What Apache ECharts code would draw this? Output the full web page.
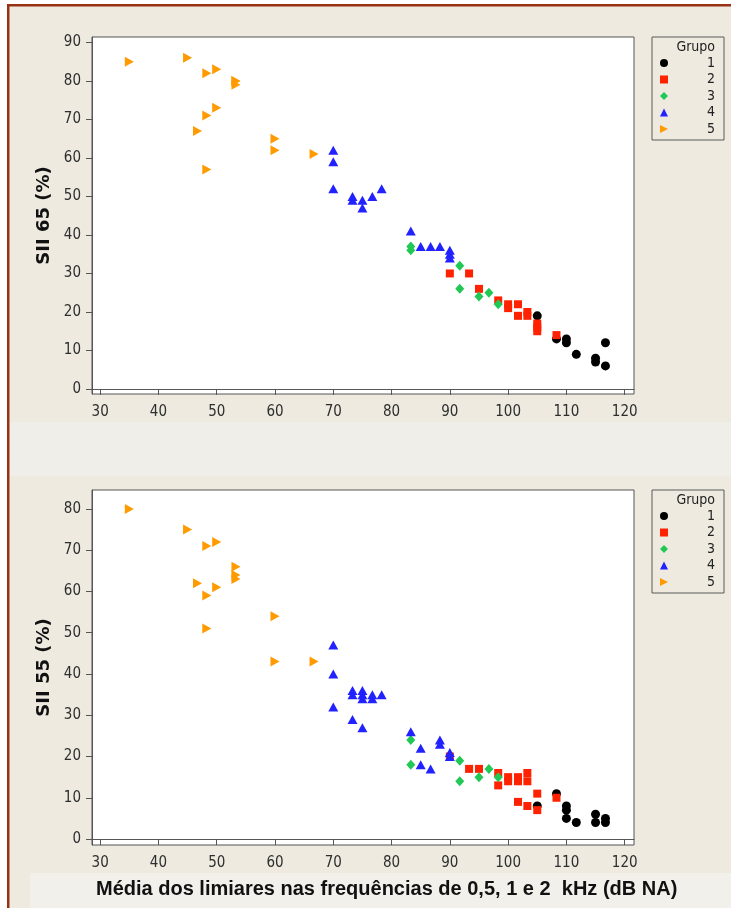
<!DOCTYPE html>
<html>
<head>
<meta charset="utf-8">
<title>SII 65 e SII 55</title>
<script src="https://cdn.jsdelivr.net/npm/echarts@6/dist/echarts.min.js"></script>
<style>
  html, body { margin: 0; padding: 0; background: #ffffff; }
  #chart { width: 731px; height: 908px; }
</style>
</head>
<body>
<div id="chart"></div>
<script>
// Tick values
const xTicks = [30, 40, 50, 60, 70, 80, 90, 100, 110, 120];
const sii65Ticks = [0, 10, 20, 30, 40, 50, 60, 70, 80, 90];
const sii55Ticks = [0, 10, 20, 30, 40, 50, 60, 70, 80];

const groupNames = ['1', '2', '3', '4', '5'];

// SII 65 (%) against mean threshold at 0.5, 1 and 2 kHz (dB NA)
const sii65Grupo1 = [[105, 19], [108.3, 13], [110, 13], [110, 12], [111.7, 9], [115, 8], [115, 7], [116.7, 12], [116.7, 6]];
const sii65Grupo2 = [[90, 30], [93.3, 30], [95, 26], [98.3, 23], [100, 22], [100, 21], [101.7, 22], [101.7, 19], [103.3, 20], [103.3, 19], [105, 17], [105, 16], [105, 15], [108.3, 14]];
const sii65Grupo3 = [[83.3, 37], [83.3, 36], [91.7, 32], [91.7, 26], [95, 24], [96.7, 25], [98.3, 22]];
const sii65Grupo4 = [[70, 62], [70, 59], [70, 52], [73.3, 50], [73.3, 49], [75, 49], [75, 47], [76.7, 50], [78.3, 52], [83.3, 41], [85, 37], [86.7, 37], [88.3, 37], [90, 36], [90, 35], [90, 34]];
const sii65Grupo5 = [[35, 85], [45, 86], [48.3, 82], [50, 83], [53.3, 80], [53.3, 80], [53.3, 79], [50, 73], [48.3, 71], [46.7, 67], [60, 65], [60, 62], [66.7, 61], [48.3, 57]];

// SII 55 (%) against the same thresholds
const sii55Grupo1 = [[105, 8], [108.3, 11], [110, 8], [110, 7], [110, 5], [111.7, 4], [115, 6], [115, 4], [116.7, 5], [116.7, 4]];
const sii55Grupo2 = [[90, 20], [93.3, 17], [95, 17], [98.3, 16], [98.3, 13], [100, 15], [100, 14], [101.7, 15], [101.7, 14], [101.7, 9], [103.3, 16], [103.3, 14], [103.3, 8], [105, 11], [105, 7], [108.3, 10]];
const sii55Grupo3 = [[83.3, 24], [83.3, 18], [91.7, 19], [91.7, 14], [95, 15], [96.7, 17], [98.3, 15]];
const sii55Grupo4 = [[70, 47], [70, 40], [70, 32], [73.3, 36], [73.3, 35], [73.3, 29], [75, 36], [75, 35], [75, 34], [75, 27], [76.7, 35], [76.7, 34], [78.3, 35], [83.3, 26], [85, 22], [85, 18], [86.7, 17], [88.3, 24], [88.3, 23], [90, 21], [90, 20]];
const sii55Grupo5 = [[35, 80], [45, 75], [48.3, 71], [50, 72], [53.3, 66], [53.3, 64], [53.3, 63], [46.7, 62], [50, 61], [48.3, 59], [60, 54], [48.3, 51], [60, 43], [66.7, 43]];

const sii65Groups = [sii65Grupo1, sii65Grupo2, sii65Grupo3, sii65Grupo4, sii65Grupo5];
const sii55Groups = [sii55Grupo1, sii55Grupo2, sii55Grupo3, sii55Grupo4, sii55Grupo5];

// Marker look per group
const groupColors = ['#000000', '#ff2200', '#22c855', '#2222ff', '#ff9a00'];
const groupSymbols = ['circle', 'rect', 'diamond', 'triangle', 'path://M0,0 L10,5 L0,10 Z'];
const groupSizes = [9, 8, [9, 10], [10, 9], [9, 10]];

const tickFont = "'DejaVu Sans Condensed', 'DejaVu Sans', sans-serif";
const frameColor = '#555555';

function xAxisFor(gridIndex) {
  return {
    type: 'value', gridIndex: gridIndex, min: 28.6, max: 121.6,
    axisLine: { show: true, lineStyle: { color: frameColor, width: 1 } },
    axisTick: { show: true, customValues: xTicks, length: 6, lineStyle: { color: frameColor } },
    axisLabel: { customValues: xTicks, margin: 11, color: '#2e2e2e', fontSize: 15, fontFamily: tickFont },
    splitLine: { show: false }
  };
}

function yAxisFor(gridIndex, min, max, ticks, name) {
  return {
    type: 'value', gridIndex: gridIndex, min: min, max: max,
    name: name, nameLocation: 'middle', nameGap: 39,
    nameTextStyle: { fontFamily: "'DejaVu Sans', sans-serif", fontWeight: 'bold', fontSize: 18, color: '#111' },
    axisLine: { show: true, lineStyle: { color: frameColor, width: 1 } },
    axisTick: { show: true, customValues: ticks, length: 6, lineStyle: { color: frameColor } },
    axisLabel: { customValues: ticks, margin: 11, color: '#2e2e2e', fontSize: 15, fontFamily: tickFont },
    splitLine: { show: false }
  };
}

function legendAt(top) {
  return {
    data: groupNames, orient: 'vertical', left: 652, top: top,
    padding: [19, 9, 4, 8], itemWidth: 8, itemHeight: 8, itemGap: 2.5, itemTextGap: 5,
    borderColor: '#5a5a5a', borderWidth: 1, backgroundColor: 'transparent',
    selectedMode: false,
    formatter: '{n|{name}}',
    textStyle: { rich: { n: { width: 42, align: 'right', fontSize: 14, fontFamily: tickFont, color: '#222' } } }
  };
}

function groupSeries(groups, axisIndex) {
  return groups.map(function (pts, i) {
    return {
      type: 'scatter', name: groupNames[i],
      xAxisIndex: axisIndex, yAxisIndex: axisIndex,
      data: pts, symbol: groupSymbols[i], symbolSize: groupSizes[i],
      itemStyle: { color: groupColors[i], opacity: 1 },
      emphasis: { disabled: true }
    };
  });
}

const chart = echarts.init(document.getElementById('chart'), null, { renderer: 'canvas' });

chart.setOption({
  animation: false,
  backgroundColor: '#ffffff',
  grid: [
    { left: 92, top: 37, width: 542, height: 357, show: true, backgroundColor: '#ffffff', borderColor: frameColor, borderWidth: 1 },
    { left: 92, top: 490, width: 542, height: 355, show: true, backgroundColor: '#ffffff', borderColor: frameColor, borderWidth: 1 }
  ],
  xAxis: [xAxisFor(0), xAxisFor(1)],
  yAxis: [
    yAxisFor(0, -1.3, 91.4, sii65Ticks, 'SII 65 (%)'),
    yAxisFor(1, -1.45, 84.6, sii55Ticks, 'SII 55 (%)')
  ],
  title: {
    text: 'Média dos limiares nas frequências de 0,5, 1 e 2  kHz (dB NA)',
    left: 96, top: 879, padding: 0,
    textStyle: { fontFamily: "'Liberation Sans', Arial, sans-serif", fontWeight: 'bold', fontSize: 20, color: '#111' }
  },
  legend: [legendAt(37), legendAt(490)],
  graphic: [
    { type: 'rect', z: -10, shape: { x: 9, y: 6, width: 722, height: 902 }, style: { fill: '#eeeae0' } },
    { type: 'rect', z: -9, shape: { x: 9, y: 422, width: 722, height: 54 }, style: { fill: '#efeee8' } },
    { type: 'rect', z: -9, shape: { x: 30, y: 873, width: 701, height: 35 }, style: { fill: '#f1f0eb' } },
    { type: 'rect', z: -8, shape: { x: 7, y: 4, width: 2.5, height: 904 }, style: { fill: '#983214' } },
    { type: 'rect', z: -8, shape: { x: 7, y: 4, width: 724, height: 2.5 }, style: { fill: '#983214' } },
    { type: 'text', z: 10, right: 16, top: 40, style: { text: 'Grupo', fontSize: 14, fontFamily: tickFont, fill: '#222' } },
    { type: 'text', z: 10, right: 16, top: 493, style: { text: 'Grupo', fontSize: 14, fontFamily: tickFont, fill: '#222' } }
  ],
  series: groupSeries(sii65Groups, 0).concat(groupSeries(sii55Groups, 1))
});
</script>
</body>
</html>
